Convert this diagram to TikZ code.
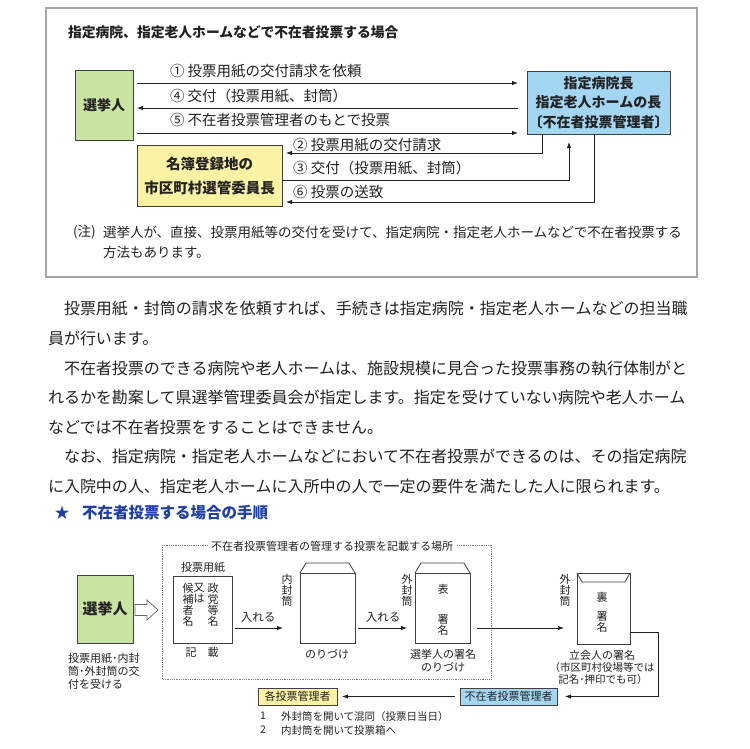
\documentclass[tikz,border=0pt]{standalone}
\usepackage{fontspec}
\setmainfont{Noto Sans CJK JP}
\usetikzlibrary{arrows.meta,calc}
\newcommand{\fsz}[1]{\fontsize{#1}{#1}\selectfont}
\definecolor{vgreen}{HTML}{C9E4A2}
\definecolor{mblue}{HTML}{A3D6F2}
\definecolor{myellow}{HTML}{FBF2A3}
\definecolor{hblue}{HTML}{1E3EA8}
\definecolor{ink}{HTML}{222222}
\begin{document}
\begin{tikzpicture}[x=1pt,y=-1pt,
  every node/.style={inner sep=0pt, outer sep=0pt, text=ink},
  arr/.style={-{Latex[length=6pt,width=4.5pt]}, line width=0.8pt, draw=ink},
  tbox/.style={draw=black!75, line width=0.8pt, align=center},
  lbl/.style={anchor=west, font=\fsz{14.5}},
  body/.style={anchor=west, font=\fsz{16}},
  small/.style={font=\fsz{11}},
  vt/.style={anchor=north, align=center, font=\fontsize{11}{11}\selectfont},
  env/.style={draw=black!75, line width=0.8pt, fill=white}
]
\useasboundingbox (0,0) rectangle (750,748);
\fill[white] (0,0) rectangle (750,748);

% ---------- top frame ----------
\draw[gray!70, line width=1.3pt] (46,8) rectangle (697,277);
\node[anchor=west, font=\fsz{13.8}\bfseries] (ttl) at (68,32) {指定病院、指定老人ホームなどで不在者投票する場合};

\node[tbox, fill=vgreen, minimum width=58pt, minimum height=70pt, font=\fsz{14}\bfseries] (voter) at (104,105) {選挙人};
\node[tbox, fill=mblue, minimum width=143pt, minimum height=63pt, font=\fontsize{14}{19.5}\selectfont\bfseries] (mgr) at (598.5,102.5) {指定病院長\\指定老人ホームの長\\〔不在者投票管理者〕};
\node[tbox, fill=myellow, minimum width=145pt, minimum height=61pt, font=\fontsize{14.5}{24}\selectfont\bfseries] (muni) at (209.5,175.5) {名簿登録地の\\市区町村選管委員長};

\coordinate (a1) at ($(voter.east)+(0,-22)$);
\coordinate (a4) at ($(voter.east)+(0,3)$);
\coordinate (a5) at ($(voter.east)+(0,28)$);
\draw[arr, shorten <=4pt, shorten >=9pt] (a1) -- (a1 -| mgr.west);
\draw[arr, shorten <=9pt, shorten >=4pt] (a4 -| mgr.west) -- (a4);
\draw[arr, shorten <=4pt, shorten >=9pt] (a5) -- (a5 -| mgr.west);
\node[lbl] (l1) at (170,71) {① 投票用紙の交付請求を依頼};
\node[lbl] (l4) at (170,96) {④ 交付（投票用紙、封筒）};
\node[lbl] (l5) at (170,120) {⑤ 不在者投票管理者のもとで投票};

\coordinate (b2) at ($(mgr.south)+(-56.5,0)$);
\coordinate (m2) at ($(muni.east)+(0,-22.5)$);
\coordinate (m3) at ($(muni.east)+(0,4.5)$);
\coordinate (b3) at ($(mgr.south)+(-29.5,0)$);
\coordinate (b6) at ($(mgr.south)+(-4.5,0)$);
\coordinate (m6) at ($(muni.east)+(0,26.5)$);
\draw[arr, shorten >=4pt] (b2) |- (m2);
\draw[arr, shorten >=8pt] (m3) -| (b3);
\draw[arr, shorten >=4pt] (b6) |- (m6);
\node[lbl] (l2) at (293,145) {② 投票用紙の交付請求};
\node[lbl] (l3) at (293,168) {③ 交付（投票用紙、封筒）};
\node[lbl] (l6) at (293,192) {⑥ 投票の送致};

\node[anchor=west, font=\fsz{13.5}] (nt) at (73,232) {(注)};
\node[anchor=west, font=\fsz{13.5}] (nt1) at (103,232) {選挙人が、直接、投票用紙等の交付を受けて、指定病院・指定老人ホームなどで不在者投票する};
\node[anchor=west, font=\fsz{13.5}] (nt2) at (103,252) {方法もあります。};

% ---------- body text ----------
\node[body] (p1) at (48,309) {　投票用紙・封筒の請求を依頼すれば、手続きは指定病院・指定老人ホームなどの担当職};
\node[body] (p2) at (48,338.5) {員が行います。};
\node[body] (p3) at (48,368) {　不在者投票のできる病院や老人ホームは、施設規模に見合った投票事務の執行体制がと};
\node[body] (p4) at (48,397.5) {れるかを勘案して県選挙管理委員会が指定します。指定を受けていない病院や老人ホーム};
\node[body] (p5) at (48,427) {などでは不在者投票をすることはできません。};
\node[body] (p6) at (48,456.5) {　なお、指定病院・指定老人ホームなどにおいて不在者投票ができるのは、その指定病院};
\node[body] (p7) at (48,486) {に入院中の人、指定老人ホームに入所中の人で一定の要件を満たした人に限られます。};

\node[font=\fsz{15}, text=hblue] (star) at (62,513) {★};
\node[anchor=west, font=\fsz{15.5}\bfseries, text=hblue] (hd) at (82,513) {不在者投票する場合の手順};

% ---------- bottom diagram ----------
\draw[gray, densely dotted, line width=0.8pt] (162,545) rectangle (491,679);
\node[fill=white, inner xsep=3pt, inner ysep=1pt, small] (plabel) at (332,546) {不在者投票管理者の管理する投票を記載する場所};

\node[tbox, fill=vgreen, minimum width=56pt, minimum height=68pt, font=\fsz{15}\bfseries] (v2) at (105,609) {選挙人};
\draw[black!60, fill=white, line width=0.7pt] (135,604.5) -- (147,604.5) -- (147,600) -- (158,610) -- (147,620) -- (147,615.5) -- (135,615.5) -- cycle;
\node[anchor=west, small] (vt1) at (68,658) {投票用紙･内封};
\node[anchor=west, small] (vt2) at (68,671) {筒･外封筒の交};
\node[anchor=west, small] (vt3) at (68,684) {付を受ける};

\node[env, minimum width=59pt, minimum height=67pt] (paper) at (202.5,609.5) {};
\node[small] (paperlbl) at (203,567) {投票用紙};
\node[vt] (c1) at (213,583.5) {政\\党\\等\\名};
\node[vt] (c2) at (199,583.5) {又\\は};
\node[vt] (c3) at (188,583.5) {候\\補\\者\\名};
\node[small] (kisai) at (202,652) {記　載};

\node[env, minimum width=55pt, minimum height=70pt] (inner) at (327.5,608) {};
\draw[black!75, line width=0.8pt] (inner.north west) -- ++(6,-10) -- ++(43,0) -- (inner.north east);
\node[vt] (innerlbl) at (287,574) {内\\封\\筒};
\node[small] (nori1) at (327,654) {のりづけ};

\node[env, minimum width=55pt, minimum height=70pt] (front) at (442.5,608) {};
\draw[black!75, line width=0.8pt] (front.north west) -- ++(6,-10) -- ++(43,0) -- (front.north east);
\node[vt] (frontlbl) at (407,574) {外\\封\\筒};
\node[small] (omote) at (443,589) {表};
\node[vt] (fsig) at (443,614.5) {署\\名};
\node[small] (fs1) at (443,654) {選挙人の署名};
\node[small] (fs2) at (443,667) {のりづけ};

\node[env, minimum width=53pt, minimum height=71pt] (back) at (603.5,608.5) {};
\draw[black!75, line width=0.8pt] (back.north west) -- ++(5,9) -- ++(43,0) -- (back.north east);
\node[vt] (backlbl) at (565,574) {外\\封\\筒};
\node[small] (ura) at (602,597) {裏};
\node[vt] (bsig) at (602,611.5) {署\\名};
\node[small] (bs1) at (602,655) {立会人の署名};
\node[font=\fsz{10.5}] (bs2) at (602,667) {（市区町村役場等では};
\node[font=\fsz{10.5}] (bs3) at (603,679) {記名･押印でも可）};

\coordinate (q1) at ($(paper.east)+(0,18.5)$);
\coordinate (q2) at ($(inner.east)+(0,20)$);
\coordinate (q3) at ($(front.east)+(0,20)$);
\draw[arr, shorten <=3pt, shorten >=17pt] (q1) -- (q1 -| inner.west);
\node[font=\fsz{11.5}] (ire1) at (258,617) {入れる};
\draw[arr, shorten <=3pt, shorten >=8pt] (q2) -- (q2 -| front.west);
\node[font=\fsz{11.5}] (ire2) at (383,617) {入れる};
\draw[arr, shorten <=7pt, shorten >=13pt] (q3) -- (q3 -| back.west);

\node[tbox, fill=mblue, minimum width=97pt, minimum height=17pt, small] (fuzai) at (508.5,696.5) {不在者投票管理者};
\node[tbox, fill=myellow, minimum width=79pt, minimum height=17pt, small] (kaku) at (297.5,696.5) {各投票管理者};
\coordinate (q4) at ($(back.east)+(0,23.5)$);
\draw[arr, shorten >=8pt] (q4) -- ++(28,0) |- (fuzai.east);
\draw[arr, shorten <=5pt, shorten >=5pt] (fuzai.west) -- (kaku.east);

\node[font=\fsz{10.5}] (n1) at (263,716) {1};
\node[anchor=west, font=\fsz{10.5}] (t1) at (281,716) {外封筒を開いて混同（投票日当日）};
\node[font=\fsz{10.5}] (n2) at (263,730) {2};
\node[anchor=west, font=\fsz{10.5}] (t2) at (281,730) {内封筒を開いて投票箱へ};
\end{tikzpicture}
\end{document}
